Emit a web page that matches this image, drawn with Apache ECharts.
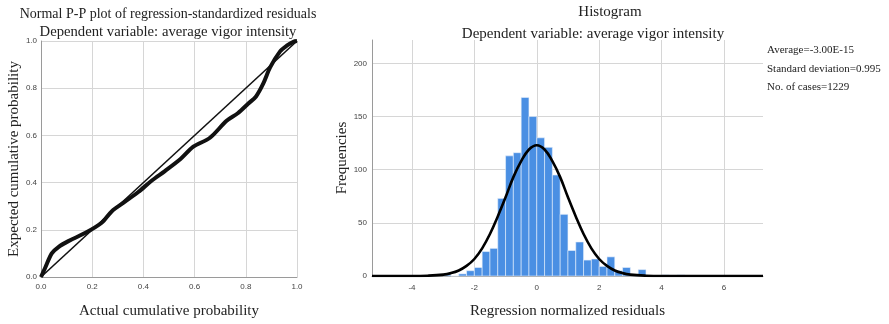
<!DOCTYPE html>
<html>
<head>
<meta charset="utf-8">
<script src="https://cdn.jsdelivr.net/npm/echarts@6/dist/echarts.min.js"></script>
<style>
  html, body { margin: 0; padding: 0; background: #fff; }
  #chart { width: 889px; height: 324px; }
</style>
</head>
<body>
<div id="chart"></div>
<script>
// P-P plot: observed cumulative probability vs expected
const ppActual = [0, 0.016, 0.042, 0.068, 0.107, 0.172, 0.237, 0.276, 0.328, 0.38, 0.432, 0.484, 0.545, 0.595, 0.66, 0.725, 0.77, 0.81, 0.84, 0.868, 0.895, 0.934, 0.96, 0.986, 1]
const ppExpected = [0, 0.038, 0.1, 0.127, 0.152, 0.186, 0.23, 0.278, 0.319, 0.36, 0.408, 0.449, 0.5, 0.552, 0.59, 0.662, 0.695, 0.735, 0.765, 0.819, 0.888, 0.956, 0.98, 0.997, 1]

// Histogram bins (left edge, width 0.25)
const binStart = [-3, -2.75, -2.5, -2.25, -2, -1.75, -1.5, -1.25, -1, -0.75, -0.5, -0.25, 0, 0.25, 0.5, 0.75, 1, 1.25, 1.5, 1.75, 2, 2.25, 2.5, 2.75, 3, 3.25, 3.5, 3.75, 4, 4.25, 4.5]
const binCount = [1, 0, 2, 5, 8, 23, 26, 73, 113, 116, 168, 150, 130, 121, 95, 58, 24, 32, 15, 16, 9, 18, 5, 8, 1, 6, 0, 0, 1, 0, 1]
const binWidth = 0.25

// Normal curve
const curveX = [-5.28, -4, -3.5, -3, -2.75, -2.5, -2.25, -2, -1.75, -1.5, -1.25, -1, -0.75, -0.5, -0.25, 0, 0.25, 0.5, 0.75, 1, 1.25, 1.5, 1.75, 2, 2.25, 2.5, 2.75, 3, 3.5, 4, 7.25]
const curveY = [0, 0, 0.3, 1.3, 2.7, 5.2, 9.5, 16, 26, 39.5, 56, 74, 93, 108, 119, 123, 119, 108, 93, 74, 56, 39.5, 26, 16, 9.5, 5.2, 2.7, 1.3, 0.3, 0, 0]

const statLines = ['Average=-3.00E-15', 'Standard deviation=0.995', 'No. of cases=1229']

const serif = 'Liberation Serif, Times New Roman, serif'
const sans = 'Liberation Sans, Arial, sans-serif'
const gridColor = '#d6d6d6'
const labelStyle = { fontFamily: sans, fontSize: 8, color: '#444' }
const nameStyle = { fontFamily: serif, fontSize: 15, color: '#222' }
const titleStyle = (size) => ({ fontFamily: serif, fontSize: size, fontWeight: 'normal', color: '#222' })

const chart = echarts.init(document.getElementById('chart'))

chart.setOption({
  animation: false,
  title: [
    { text: 'Normal P-P plot of regression-standardized residuals', left: 163, top: 2, textAlign: 'center', textStyle: titleStyle(14) },
    { text: 'Dependent variable: average vigor intensity', left: 163, top: 20, textAlign: 'center', textStyle: titleStyle(14.7) },
    { text: 'Histogram', left: 605, top: 0, textAlign: 'center', textStyle: titleStyle(15) },
    { text: 'Dependent variable: average vigor intensity', left: 588, top: 22, textAlign: 'center', textStyle: titleStyle(15) },
  ],
  graphic: statLines.map((line, i) => ({
    type: 'text',
    left: 767,
    top: 45 + i * 18.5,
    style: { text: line, font: '11px ' + serif, fill: '#222' },
  })),
  grid: [
    { left: 41, right: 592, top: 41, bottom: 40 },
    { left: 372, right: 126, top: 40, bottom: 42 },
  ],
  xAxis: [
    {
      gridIndex: 0, type: 'value', min: 0, max: 1, interval: 0.2,
      name: 'Actual cumulative probability', nameLocation: 'middle', nameGap: 27, nameTextStyle: nameStyle,
      axisLine: { onZero: false, lineStyle: { color: '#9a9a9a' } },
      axisTick: { show: false },
      axisLabel: { ...labelStyle, margin: 6, formatter: (v) => v.toFixed(1) },
      splitLine: { lineStyle: { color: gridColor } },
    },
    {
      gridIndex: 1, type: 'value', min: -5.28, max: 7.25, splitNumber: 6,
      name: 'Regression normalized residuals', nameLocation: 'middle', nameGap: 28, nameTextStyle: nameStyle,
      axisLine: { onZero: false, lineStyle: { color: '#9a9a9a' } },
      axisTick: { show: false },
      axisLabel: { ...labelStyle, margin: 8, showMinLabel: false, showMaxLabel: false },
      splitLine: { lineStyle: { color: gridColor }, showMinLine: false, showMaxLine: false },
    },
  ],
  yAxis: [
    {
      gridIndex: 0, type: 'value', min: 0, max: 1, interval: 0.2,
      name: 'Expected cumulative probability', nameLocation: 'middle', nameGap: 19, nameTextStyle: nameStyle,
      axisLine: { show: true, onZero: false, lineStyle: { color: '#9a9a9a' } },
      axisTick: { show: false },
      axisLabel: { ...labelStyle, margin: 4, formatter: (v) => v.toFixed(1) },
      splitLine: { lineStyle: { color: gridColor } },
    },
    {
      gridIndex: 1, type: 'value', min: 0, max: 222, interval: 50,
      name: 'Frequencies', nameLocation: 'middle', nameGap: 20, nameTextStyle: nameStyle,
      axisLine: { show: true, onZero: false, lineStyle: { color: '#9a9a9a' } },
      axisTick: { show: false },
      axisLabel: { ...labelStyle, margin: 5, showMaxLabel: false },
      splitLine: { lineStyle: { color: gridColor }, showMaxLine: false },
    },
  ],
  series: [
    {
      name: 'diagonal', type: 'line', xAxisIndex: 0, yAxisIndex: 0,
      data: [[0, 0], [1, 1]], symbol: 'none',
      lineStyle: { color: '#111', width: 1.6 }, z: 3,
    },
    {
      name: 'observed', type: 'line', xAxisIndex: 0, yAxisIndex: 0,
      data: ppActual.map((x, i) => [x, ppExpected[i]]), symbol: 'none', smooth: 0.3,
      lineStyle: { color: '#111', width: 4 }, z: 4,
    },
    {
      name: 'bins', type: 'custom', xAxisIndex: 1, yAxisIndex: 1,
      data: binStart.map((s, i) => [s, s + binWidth, binCount[i]]),
      renderItem: (params, api) => {
        const p0 = api.coord([api.value(0), api.value(2)])
        const p1 = api.coord([api.value(1), 0])
        return {
          type: 'rect',
          shape: { x: p0[0], y: p0[1], width: p1[0] - p0[0], height: p1[1] - p0[1] },
          style: { fill: '#4a8fe3', stroke: '#e8f0fb', lineWidth: 0.6 },
        }
      },
      z: 2,
    },
    {
      name: 'normal', type: 'line', xAxisIndex: 1, yAxisIndex: 1,
      data: curveX.map((x, i) => [x, curveY[i]]), symbol: 'none', smooth: 0.4,
      lineStyle: { color: '#000', width: 2.6 }, z: 5,
    },
  ],
})
</script>
</body>
</html>
